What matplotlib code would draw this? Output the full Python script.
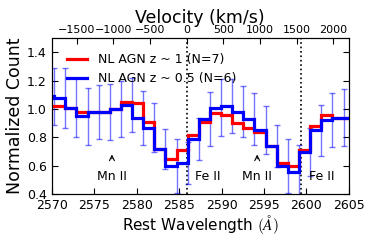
import numpy as np
import matplotlib
matplotlib.use('Agg')
import matplotlib.pyplot as plt

plt.rcParams['mathtext.fontset'] = 'cm'

# bin edges in rest wavelength (Angstrom); values belong to [edge_i, edge_i+1]
lam_first = 2568.99
lam_step = 1.31
n_bins = 28

# stacked spectra
red_z1 = [1.02, 1.02, 1.01, 0.98, 0.98, 0.98, 1.00, 1.05, 1.04, 0.91, 0.72, 0.65, 0.71, 0.82,
          0.91, 0.97, 0.96, 0.90, 0.87, 0.84, 0.74, 0.62, 0.60, 0.71, 0.88, 0.96, 0.94, 0.94]
blue_z05 = [1.09, 1.08, 1.01, 0.95, 0.98, 0.98, 1.00, 1.03, 0.94, 0.87, 0.72, 0.60, 0.62, 0.79,
            0.93, 1.01, 1.02, 0.98, 0.93, 0.85, 0.74, 0.60, 0.56, 0.70, 0.85, 0.92, 0.94, 0.94]
blue_err = [0.20, 0.21, 0.21, 0.20, 0.19, 0.20, 0.20, 0.19, 0.19, 0.17, 0.14, 0.19, 0.15, 0.15,
            0.19, 0.20, 0.19, 0.18, 0.18, 0.17, 0.15, 0.19, 0.19, 0.17, 0.18, 0.19, 0.20, 0.20]

# line markers
fe_lines = [2585.9, 2599.35]
fe_labels = ['Fe II', 'Fe II']
mn_lines = [2577.1, 2594.2]
v_ref = 2585.9
c_kms = 299792.458

edges = lam_first + lam_step * np.arange(n_bins + 1)

fig = plt.figure(figsize=(3.74, 2.49), dpi=100)
ax = fig.add_axes([0.138, 0.22, 0.795, 0.627])

ax.stairs(red_z1, edges, color='red', lw=2.3, label='NL AGN z ~ 1 (N=7)', zorder=3)
ax.stairs(blue_z05, edges, color='blue', lw=2.3, label='NL AGN z ~ 0.5 (N=6)', zorder=4)
ax.errorbar(edges[1:], blue_z05, yerr=blue_err, fmt='none', ecolor='blue', alpha=0.55,
            elinewidth=1.0, capsize=2, capthick=1.0, zorder=2)

for lam in fe_lines:
    ax.axvline(lam, color='black', ls=':', lw=1.2, zorder=1)
for lam in mn_lines:
    ax.annotate('Mn II', xy=(lam, 0.68), xytext=(lam, 0.525), ha='center', va='center',
                fontsize=9, arrowprops=dict(arrowstyle='->', lw=0.8, shrinkA=6, shrinkB=0))
for lam, lab in zip(fe_lines, fe_labels):
    ax.text(lam + 1.0, 0.525, lab, ha='left', va='center', fontsize=9)

ax.set_xlim(2570, 2605)
ax.set_ylim(0.4, 1.5)
ax.set_yticks([0.4, 0.6, 0.8, 1.0, 1.2, 1.4])
ax.set_xticks(np.arange(2570, 2606, 5))
ax.tick_params(direction='in', labelsize=9, top=False, right=True, length=4)
ax.set_xlabel(r'Rest Wavelength $(\AA)$', fontsize=11, labelpad=1)
ax.set_ylabel('Normalized Count', fontsize=12.5, labelpad=2)

ax.legend(loc='upper left', frameon=False, fontsize=9, handlelength=1.6,
          borderaxespad=0.8, labelspacing=0.5, handletextpad=0.9)

# velocity axis on top
ax2 = ax.twiny()
ax2.set_xlim((2570 - v_ref) / v_ref * c_kms, (2605 - v_ref) / v_ref * c_kms)
ax2.set_xticks(np.arange(-1500, 2001, 500))
ax2.tick_params(direction='in', labelsize=8, length=4, pad=2)
ax2.set_xlabel('Velocity (km/s)', fontsize=12.5, labelpad=2)

fig.savefig('out.png', dpi=100)
